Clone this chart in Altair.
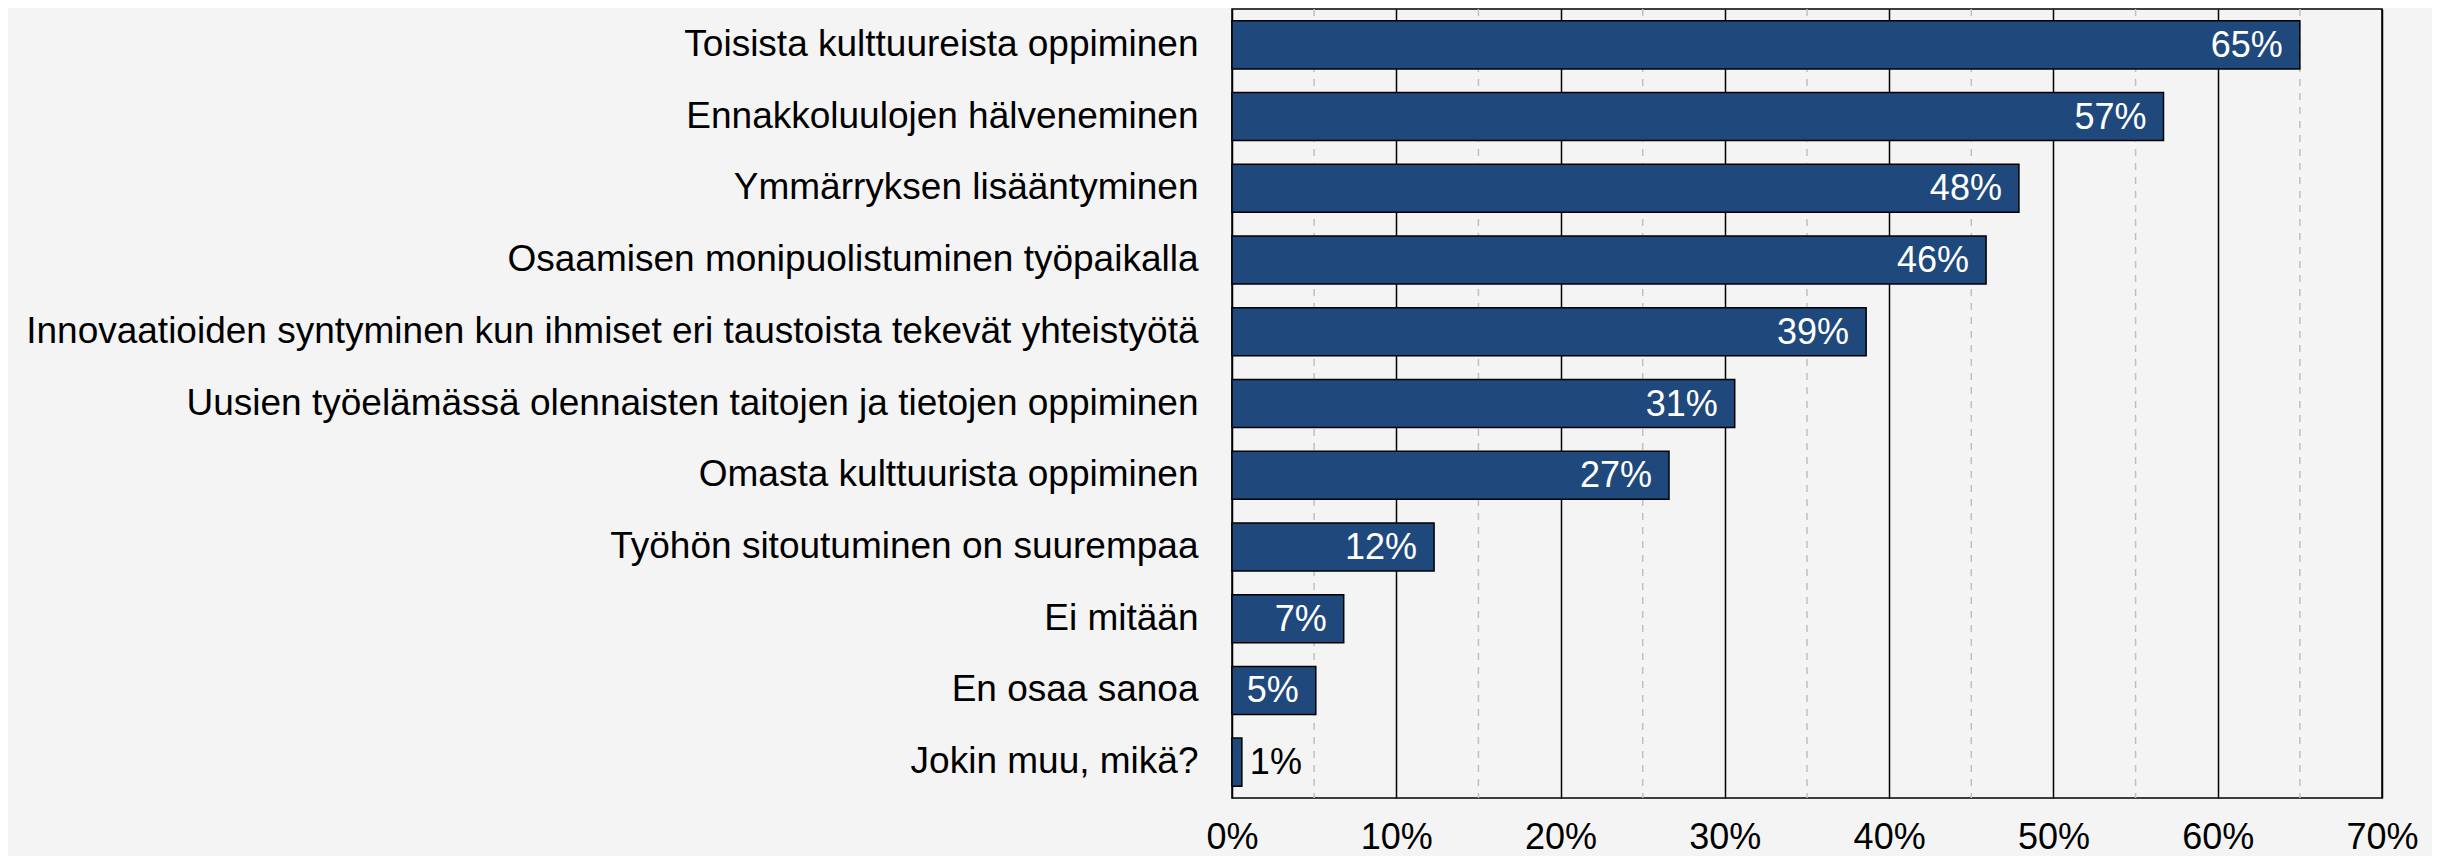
import altair as alt
import pandas as pd

categories = [
    "Toisista kulttuureista oppiminen",
    "Ennakkoluulojen hälveneminen",
    "Ymmärryksen lisääntyminen",
    "Osaamisen monipuolistuminen työpaikalla",
    "Innovaatioiden syntyminen kun ihmiset eri taustoista tekevät yhteistyötä",
    "Uusien työelämässä olennaisten taitojen ja tietojen oppiminen",
    "Omasta kulttuurista oppiminen",
    "Työhön sitoutuminen on suurempaa",
    "Ei mitään",
    "En osaa sanoa",
    "Jokin muu, mikä?",
]
values = [0.650, 0.567, 0.479, 0.459, 0.386, 0.306, 0.266, 0.123, 0.068, 0.051, 0.006]
major_ticks = [0, 0.1, 0.2, 0.3, 0.4, 0.5, 0.6, 0.7]
minor_ticks = [0.05, 0.15, 0.25, 0.35, 0.45, 0.55, 0.65]

df = pd.DataFrame({"cat": categories, "val": values})
minor_df = pd.DataFrame({"g": minor_ticks})

FONT = "Liberation Sans"
BAR = "#1F497D"

x_scale = alt.Scale(domain=[0, 0.7], nice=False, zero=True)
y_scale = alt.Scale(paddingInner=0.33, paddingOuter=0.165)

minor = alt.Chart(minor_df).mark_rule(
    color="#c0c0c0", strokeDash=[7, 7], strokeWidth=1.5
).encode(x=alt.X("g:Q", scale=x_scale))

bars = alt.Chart(df).mark_bar(
    color=BAR, stroke="black", strokeWidth=1.5
).encode(
    x=alt.X(
        "val:Q",
        scale=x_scale,
        axis=alt.Axis(
            values=major_ticks,
            format=".0%",
            title=None,
            grid=True,
            gridColor="black",
            gridWidth=1.5,
            gridOpacity=1,
            ticks=False,
            domain=False,
            labelFontSize=36,
            labelFont=FONT,
            labelColor="black",
            labelBaseline="alphabetic",
            labelPadding=50,
            labelFlush=False,
            labelOverlap=False,
        ),
    ),
    y=alt.Y(
        "cat:N",
        sort=categories,
        scale=y_scale,
        axis=alt.Axis(
            title=None,
            ticks=False,
            domain=False,
            labelFontSize=37,
            labelFont=FONT,
            labelColor="black",
            labelPadding=34,
            labelLimit=1400,
        ),
    ),
)

inside = alt.Chart(df).transform_filter("datum.val >= 0.02").mark_text(
    align="right", baseline="middle", dx=-17, dy=1, fontSize=36, font=FONT, color="white"
).encode(
    x=alt.X("val:Q", scale=x_scale),
    y=alt.Y("cat:N", sort=categories, scale=y_scale),
    text=alt.Text("val:Q", format=".0%"),
)

outside = alt.Chart(df).transform_filter("datum.val < 0.02").mark_text(
    align="left", baseline="middle", dx=8, dy=1, fontSize=36, font=FONT, color="black"
).encode(
    x=alt.X("val:Q", scale=x_scale),
    y=alt.Y("cat:N", sort=categories, scale=y_scale),
    text=alt.Text("val:Q", format=".0%"),
)

chart = alt.layer(minor, bars, inside, outside).properties(
    width=1150,
    height=789,
    background="#F4F4F4",
    autosize=alt.AutoSizeParams(type="none"),
    padding={"left": 1224, "top": 1, "right": 50, "bottom": 58},
).configure_view(stroke="black", strokeWidth=1.5)

chart.save("out.html", embed_options={"renderer": "svg", "actions": False})
